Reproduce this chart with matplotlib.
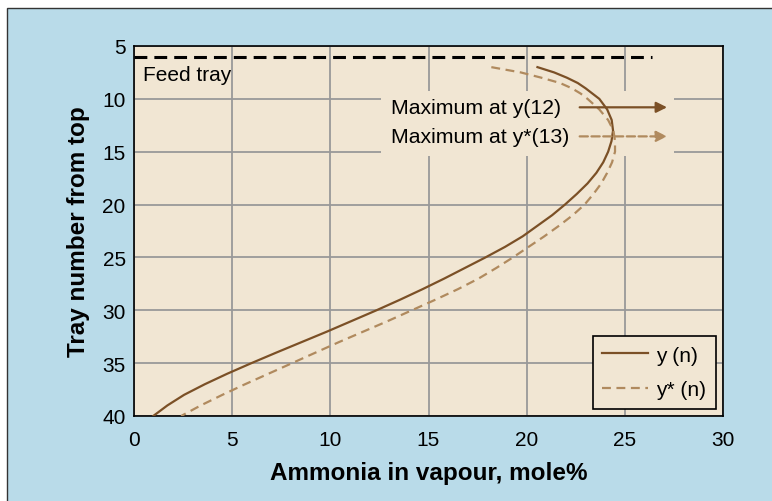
import matplotlib
matplotlib.use("Agg")
import matplotlib.pyplot as plt
from matplotlib.patches import Rectangle

plt.rcParams['font.family'] = ['Liberation Sans', 'DejaVu Sans']

# tray number from top (half steps near the top where the curves bend)
trays = [7, 7.5, 8, 8.5, 9, 9.5, 10, 11, 12, 13, 14, 15, 16, 17, 18, 19,
         20, 21, 22, 23, 24, 25, 26, 27, 28, 29, 30, 31, 32, 33, 34, 35,
         36, 37, 38, 39, 40]

# y(n), ammonia in vapour (mole%)
y_n = [20.55, 21.4, 22.05, 22.6, 23.0, 23.35, 23.7, 24.1, 24.33, 24.4,
       24.32, 24.15, 23.9, 23.55, 23.1, 22.55, 21.95, 21.3, 20.55, 19.8,
       18.9, 17.9, 16.85, 15.8, 14.7, 13.55, 12.35, 11.1, 9.85, 8.55,
       7.25, 5.98, 4.75, 3.6, 2.55, 1.7, 0.98]

# y*(n), equilibrium value
y_star = [18.2, 19.7, 20.75, 21.7, 22.3, 22.75, 23.1, 23.7, 24.15, 24.42,
          24.5, 24.5, 24.35, 24.1, 23.8, 23.4, 22.95, 22.35, 21.65, 20.9,
          20.1, 19.3, 18.45, 17.55, 16.5, 15.35, 14.15, 12.95, 11.7, 10.45,
          9.25, 8.05, 6.85, 5.65, 4.5, 3.4, 2.4]

feed_tray = 6
max_labels = ['Maximum at y(12)', 'Maximum at y*(13)']
max_rows = [10.8, 13.55]

bg_blue = '#b9dbe9'
paper = '#f1e6d3'
brown = '#7b5026'
tan = '#b08a5e'

fig = plt.figure(figsize=(7.72, 5.02), dpi=100)
fig.patch.set_facecolor('white')
bg = Rectangle((7 / 772, -0.1), 1.0, 1.1 - 9 / 502,
               transform=fig.transFigure, facecolor=bg_blue,
               edgecolor='#333333', lw=1.0, zorder=-1)
fig.add_artist(bg)

ax = fig.add_axes([134 / 772, 1 - 417 / 502, 589 / 772, 370 / 502])
ax.set_facecolor(paper)
ax.set_xlim(0, 30)
ax.set_ylim(40, 5)
ax.set_xticks(range(0, 31, 5))
ax.set_yticks(range(5, 41, 5))
ax.grid(True, color='#999999', lw=1.3)
ax.set_axisbelow(True)
for sp in ax.spines.values():
    sp.set_color('black')
    sp.set_linewidth(1.2)
ax.tick_params(length=0, labelsize=15)
ax.tick_params(axis='x', pad=10)
ax.tick_params(axis='y', pad=6)

# blank area behind the annotation texts
ax.add_patch(Rectangle((12.6, 9.26), 14.9, 6.14, facecolor=paper,
                       edgecolor='none', zorder=1))

# feed tray line
ax.plot([0, 26.4], [feed_tray, feed_tray], color='black', lw=2.2,
        dashes=(4.2, 2.3), zorder=3)
ax.text(0.45, 7.65, 'Feed tray', fontsize=15, va='center', zorder=4)

l1, = ax.plot(y_n, trays, color=brown, lw=1.6, zorder=3, label='y (n)')
l2, = ax.plot(y_star, trays, color=tan, lw=1.6, ls=(0, (4, 2.5)),
              zorder=3, label='y* (n)')

styles = ['-', '--']
cols = [brown, tan]
for lab, row, st, c in zip(max_labels, max_rows, styles, cols):
    ax.text(13.1, row, lab, fontsize=15.3, va='center', zorder=4)
    ax.annotate('', xy=(27.15, row), xytext=(22.7, row),
                arrowprops=dict(arrowstyle='-|>', color=c, lw=1.6,
                                linestyle=st, mutation_scale=16,
                                shrinkA=0, shrinkB=0), zorder=4)

leg = ax.legend(handles=[l1, l2], loc='lower right', fontsize=15,
                handlelength=2.2, handletextpad=0.4, borderpad=0.45,
                borderaxespad=0.35, fancybox=False, framealpha=1,
                facecolor=paper, edgecolor='black', labelspacing=0.75)
leg.get_frame().set_linewidth(1.2)

ax.set_xlabel('Ammonia in vapour, mole%', fontsize=17.5, fontweight='bold',
              labelpad=9)
ax.set_ylabel('Tray number from top', fontsize=17.5, fontweight='bold',
              labelpad=9)

fig.savefig('out.png', dpi=100)
